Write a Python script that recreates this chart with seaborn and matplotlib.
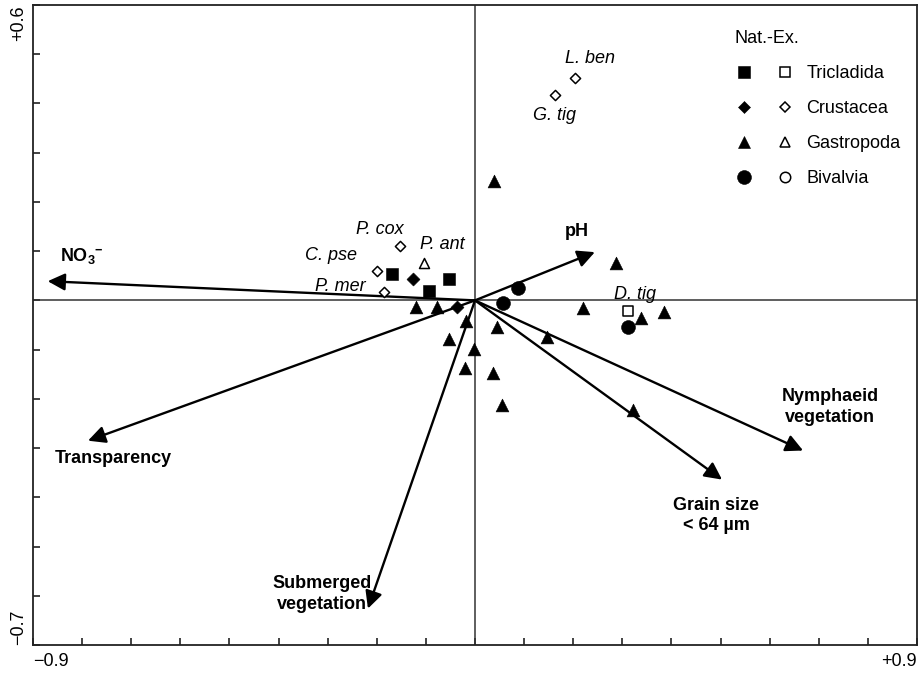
import numpy as np
import pandas as pd
import matplotlib
matplotlib.use("Agg")
import matplotlib.pyplot as plt
from matplotlib.lines import Line2D
from matplotlib.legend_handler import HandlerTuple
import seaborn as sns

# ---------------- data ----------------
tric_nat_x = [-0.169, -0.053, -0.094]
tric_nat_y = [0.053, 0.043, 0.020]
tric_exo_x = [0.312]
tric_exo_y = [-0.022]

crus_nat_x = [-0.126, -0.037]
crus_nat_y = [0.043, -0.014]
crus_exo_x = [-0.153, -0.200, -0.185, 0.204, 0.163]
crus_exo_y = [0.110, 0.059, 0.018, 0.451, 0.417]

gast_nat_x = [0.039, 0.287, -0.120, -0.077, -0.018, -0.053, -0.002, -0.020,
              0.045, 0.037, 0.055, 0.147, 0.220, 0.338, 0.385, 0.322]
gast_nat_y = [0.242, 0.075, -0.014, -0.014, -0.041, -0.079, -0.098, -0.138,
              -0.055, -0.148, -0.213, -0.075, -0.016, -0.035, -0.024, -0.222]
gast_exo_x = [-0.104]
gast_exo_y = [0.075]

biva_nat_x = [0.088, 0.057, 0.312]
biva_nat_y = [0.026, -0.006, -0.055]

species_labels = ["L. ben", "G. tig", "P. cox", "C. pse", "P. ant", "P. mer", "D. tig"]
species_lab_x = [0.234, 0.161, -0.193, -0.293, -0.067, -0.275, 0.326]
species_lab_y = [0.492, 0.376, 0.144, 0.091, 0.114, 0.028, 0.012]

env_names = ["NO$_3$$^{\\mathregular{-}}$", "Transparency", "Submerged\nvegetation", "pH",
             "Grain size\n< 64 µm", "Nymphaeid\nvegetation"]
env_x = [-0.870, -0.788, -0.218, 0.244, 0.503, 0.668]
env_y = [0.039, -0.285, -0.626, 0.098, -0.364, -0.305]
env_lab_x = [-0.846, -0.737, -0.312, 0.208, 0.491, 0.723]
env_lab_y = [0.091, -0.321, -0.596, 0.140, -0.437, -0.217]
env_lab_ha = ["left", "center", "center", "center", "center", "center"]

groups = ["Tricladida", "Crustacea", "Gastropoda", "Bivalvia"]
legend_title = "Nat.-Ex."
x_tick_labels = ["\u22120.9", "+0.9"]
y_tick_labels = ["\u22120.7", "+0.6"]

# ---------------- style ----------------
sns.set_style("white")
plt.rcParams["font.family"] = ["Liberation Sans", "DejaVu Sans"]
plt.rcParams["mathtext.fontset"] = "custom"
plt.rcParams["mathtext.rm"] = "Liberation Sans:bold"
plt.rcParams["mathtext.bf"] = "Liberation Sans:bold"
plt.rcParams["text.color"] = "black"
plt.rcParams["xtick.color"] = "black"
plt.rcParams["ytick.color"] = "black"
FS = 13

fig = plt.figure(figsize=(9.24, 6.73), dpi=100)
ax = fig.add_axes([33 / 924, 1 - 645 / 673, 884 / 924, 640 / 673])

ax.set_xlim(-0.9, 0.9)
ax.set_ylim(-0.7, 0.6)

ax.axhline(0, color="#333333", lw=1.1, zorder=1)
ax.axvline(0, color="#333333", lw=1.1, zorder=1)

# arrows
for name, x, y, lx, ly, ha in zip(env_names, env_x, env_y, env_lab_x, env_lab_y, env_lab_ha):
    ax.annotate("", xy=(x, y), xytext=(0, 0),
                arrowprops=dict(arrowstyle="-|>,head_length=0.52,head_width=0.26",
                                lw=1.7, color="black", shrinkA=0, shrinkB=0,
                                mutation_scale=20),
                zorder=2)
    ax.text(lx, ly, name, ha=ha, va="center", fontsize=FS, fontweight="bold",
            linespacing=1.3, color="black", zorder=4)

def filled(x, y, marker, s):
    sns.scatterplot(x=x, y=y, ax=ax, marker=marker, s=s, color="black",
                    edgecolor="black", linewidth=0.4, zorder=3)

def hollow(x, y, marker, s):
    sns.scatterplot(x=x, y=y, ax=ax, marker=marker, s=s, color="white",
                    edgecolor="black", linewidth=1.1, zorder=3)

filled(tric_nat_x, tric_nat_y, "s", 85)
hollow(tric_exo_x, tric_exo_y, "s", 57)
filled(crus_nat_x, crus_nat_y, "D", 44)
hollow(crus_exo_x, crus_exo_y, "D", 27)
filled(gast_nat_x, gast_nat_y, "^", 85)
hollow(gast_exo_x, gast_exo_y, "^", 52)
filled(biva_nat_x, biva_nat_y, "o", 100)

for lab, x, y in zip(species_labels, species_lab_x, species_lab_y):
    ax.text(x, y, lab, ha="center", va="center", fontsize=FS, style="italic",
            color="black", zorder=4)

# legend
mk = ["s", "D", "^", "o"]
fill_ms = [9.2, 6.6, 9.2, 10.0]
open_ms = [7.5, 5.2, 7.2, 7.5]
handles = []
for m, fm, om in zip(mk, fill_ms, open_ms):
    h1 = Line2D([], [], ls="none", marker=m, markersize=fm, mfc="black", mec="black", mew=0.4)
    h2 = Line2D([], [], ls="none", marker=m, markersize=om, mfc="white", mec="black", mew=1.1)
    handles.append((h1, h2))
leg = ax.legend(handles, groups, title=legend_title, loc="upper left",
                bbox_to_anchor=((735 - 33) / 884, (645 - 30) / 640),
                frameon=False, fontsize=FS, title_fontsize=FS, alignment="left",
                handler_map={tuple: HandlerTuple(ndivide=None, pad=1.28)},
                handlelength=3.28, handletextpad=0.67, labelspacing=1.0,
                borderpad=0, borderaxespad=0, labelcolor="black")
leg.get_title().set_color("black")

# ticks and spines
ax.set_xticks(np.round(np.arange(-0.9, 0.91, 0.1), 1))
ax.set_yticks(np.round(np.arange(-0.7, 0.61, 0.1), 1))
xl = [""] * len(ax.get_xticks())
xl[0], xl[-1] = x_tick_labels
yl = [""] * len(ax.get_yticks())
yl[0], yl[-1] = y_tick_labels
ax.set_xticklabels(xl, fontsize=FS)
ax.set_yticklabels(yl, fontsize=FS, rotation=90)
ax.get_xticklabels()[0].set_ha("left")
ax.get_xticklabels()[-1].set_ha("right")
ax.get_yticklabels()[0].set_va("bottom")
ax.get_yticklabels()[-1].set_va("top")
ax.tick_params(axis="both", direction="in", length=5, width=1.2, color="#222222",
               labelcolor="black", pad=6, bottom=True, left=True, top=False, right=False)
ax.tick_params(axis="y", pad=4)
for sp in ax.spines.values():
    sp.set_color("#222222")
    sp.set_linewidth(1.3)
ax.set_xlabel("")
ax.set_ylabel("")

fig.savefig("out.png", dpi=100)
